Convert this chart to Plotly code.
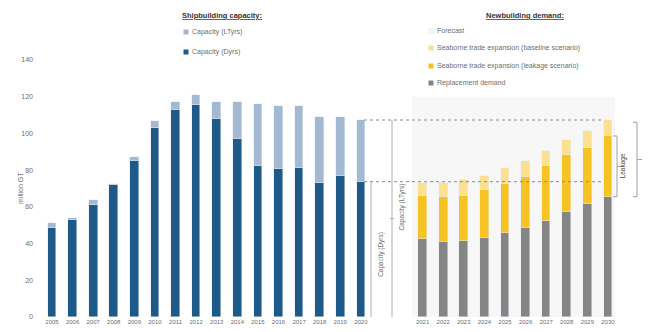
import plotly.graph_objects as go

# ---------------- data ----------------
cap_years = ["2005", "2006", "2007", "2008", "2009", "2010", "2011", "2012",
             "2013", "2014", "2015", "2016", "2017", "2018", "2019", "2020"]
cap_dyrs = [48.6, 53, 61, 72, 85, 103, 112.7, 115.5, 108, 97, 82, 80.5, 81, 73, 77, 73.7]
cap_ltyrs_extra = [2.4, 1, 2.5, 0.7, 2, 3.5, 4.3, 5.5, 9, 20, 34, 34.5, 34, 36, 32, 33.6]

dem_years = ["2021", "2022", "2023", "2024", "2025", "2026", "2027", "2028", "2029", "2030"]
replacement = [42.5, 41, 41.6, 42.9, 45.6, 48.3, 52.3, 57, 61.5, 65.5]
leakage_exp = [23.5, 24.5, 24.4, 26.1, 26.8, 28.1, 29.7, 31, 30.5, 33.1]
baseline_exp = [6.8, 7.5, 8.6, 7.8, 8.6, 8.6, 8.6, 8.4, 9.3, 8.7]

cap_level_ltyrs = 107.3
cap_level_dyrs = 73.7

y_ticks = [0, 20, 40, 60, 80, 100, 120, 140]

# ---------------- styling ----------------
C_DARK = "#1d5a88"
C_LIGHT = "#a3b9d1"
C_GREY = "#858585"
C_YEL = "#f6c323"
C_LYEL = "#fbe090"
TXT = "#6e6e6e"
FONT = "Liberation Sans"

W, H = 648, 332
ML, MR, MT, MB = 40, 0, 0, 15
PW, PH = W - ML - MR, H - MT - MB


def px_x(px):
    return (px - ML) / PW


def px_y(py):
    return (H - MB - py) / PH


cap_x = list(range(len(cap_years)))
dem_x = [18 + i for i in range(len(dem_years))]
BW = 0.42

fig = go.Figure()
fig.add_bar(x=cap_x, y=cap_dyrs, marker_color=C_DARK, width=BW, name="Capacity (Dyrs)")
fig.add_bar(x=cap_x, y=cap_ltyrs_extra, marker_color=C_LIGHT, width=BW, name="Capacity (LTyrs)")
fig.add_bar(x=dem_x, y=replacement, marker_color=C_GREY, width=BW, name="Replacement demand")
fig.add_bar(x=dem_x, y=leakage_exp, marker_color=C_YEL, width=BW,
            name="Seaborne trade expansion (leakage scenario)")
fig.add_bar(x=dem_x, y=baseline_exp, marker_color=C_LYEL, width=BW,
            name="Seaborne trade expansion (baseline scenario)")

shapes = []
annotations = []

# forecast shading
shapes.append(dict(type="rect", xref="paper", yref="y", x0=px_x(412), x1=px_x(615),
                   y0=0, y1=120, fillcolor="#f7f7f7", line=dict(width=0), layer="below"))

# dotted capacity levels
for lvl in (cap_level_ltyrs, cap_level_dyrs):
    shapes.append(dict(type="line", xref="paper", yref="y", x0=px_x(364), x1=px_x(603),
                       y0=lvl, y1=lvl, line=dict(color="#8a8a8a", width=1, dash="dot")))

# vertical dimension lines
for xp, top in ((371, cap_level_dyrs), (392, cap_level_ltyrs)):
    shapes.append(dict(type="line", xref="paper", yref="y", x0=px_x(xp), x1=px_x(xp),
                       y0=0, y1=top, line=dict(color="#b0b0b0", width=1)))
shapes.append(dict(type="line", xref="paper", yref="y", x0=px_x(390), x1=px_x(394),
                   y0=cap_level_ltyrs / 2, y1=cap_level_ltyrs / 2,
                   line=dict(color="#b0b0b0", width=1)))

annotations.append(dict(text="Capacity (Dyrs)", xref="paper", yref="y", x=px_x(381),
                        y=cap_level_dyrs / 2 - 3, showarrow=False, textangle=-90,
                        font=dict(size=6.5, color=TXT, family=FONT)))
annotations.append(dict(text="Capacity (LTyrs)", xref="paper", yref="y", x=px_x(402),
                        y=cap_level_ltyrs / 2 + 6, showarrow=False, textangle=-90,
                        font=dict(size=6.5, color=TXT, family=FONT)))

# brackets on the right
def bracket(xp, y0, y1, label=None):
    col = "#a0a0a0"
    shapes.append(dict(type="line", xref="paper", yref="y", x0=px_x(xp), x1=px_x(xp),
                       y0=y0, y1=y1, line=dict(color=col, width=1)))
    for yy in (y0, y1):
        shapes.append(dict(type="line", xref="paper", yref="y", x0=px_x(xp - 4), x1=px_x(xp),
                           y0=yy, y1=yy, line=dict(color=col, width=1)))
    mid = (y0 + y1) / 2
    shapes.append(dict(type="line", xref="paper", yref="y", x0=px_x(xp), x1=px_x(xp + 5),
                       y0=mid, y1=mid, line=dict(color=col, width=1)))
    if label:
        annotations.append(dict(text=label, xref="paper", yref="y", x=px_x(xp + 12), y=mid,
                                showarrow=False, textangle=-90,
                                font=dict(size=6.5, color="#444444", family=FONT)))


bracket(617, replacement[-1], replacement[-1] + leakage_exp[-1], "Leakage")
bracket(637, replacement[-1], 106)

# legends
def title(text, xp, yp):
    annotations.append(dict(text="<b><u>" + text + "</u></b>", xref="paper", yref="paper",
                            x=px_x(xp), y=px_y(yp), showarrow=False, xanchor="center",
                            yanchor="middle",
                            font=dict(size=7.5, color="#333333", family=FONT)))


def item(text, color, xp, yp, border=None):
    shapes.append(dict(type="rect", xref="paper", yref="paper",
                       x0=px_x(xp - 2.5), x1=px_x(xp + 2.5), y0=px_y(yp + 2.5), y1=px_y(yp - 2.5),
                       fillcolor=color, line=dict(width=0.5 if border else 0, color=border or color)))
    annotations.append(dict(text=text, xref="paper", yref="paper", x=px_x(xp + 4), y=px_y(yp),
                            showarrow=False, xanchor="left", yanchor="middle",
                            font=dict(size=7, color=TXT, family=FONT)))


title("Shipbuilding capacity:", 222, 15)
item("Capacity (LTyrs)", C_LIGHT, 186, 32)
item("Capacity (Dyrs)", C_DARK, 186, 52)

title("Newbuilding demand:", 525, 15)
item("Forecast", "#f7f7f7", 431, 31, border="#e6e6e6")
item("Seaborne trade expansion (baseline scenario)", C_LYEL, 431, 48)
item("Seaborne trade expansion (leakage scenario)", C_YEL, 431, 66)
item("Replacement demand", C_GREY, 431, 83)

annotations.append(dict(text="million GT", xref="paper", yref="y", x=px_x(15), y=70,
                        showarrow=False, textangle=-90,
                        font=dict(size=7, color=TXT, family=FONT)))

x_lo = -12 / 20.59
x_hi = x_lo + PW / 20.59

fig.update_layout(
    width=W, height=H, margin=dict(l=ML, r=MR, t=MT, b=MB),
    barmode="stack", showlegend=False,
    plot_bgcolor="white", paper_bgcolor="white",
    font=dict(family=FONT, color=TXT),
    xaxis=dict(range=[x_lo, x_hi], tickvals=cap_x + dem_x, ticktext=cap_years + dem_years,
               showgrid=False, zeroline=False, showline=False, ticks="",
               tickfont=dict(size=6, color=TXT), tickangle=0),
    yaxis=dict(range=[0, PH / 1.836], tickvals=y_ticks, showgrid=False, zeroline=False,
               showline=False, ticks="", tickfont=dict(size=7, color=TXT),
               ticklabelstandoff=6),
    shapes=shapes, annotations=annotations, bargap=0,
)

fig.write_html("out.html")
